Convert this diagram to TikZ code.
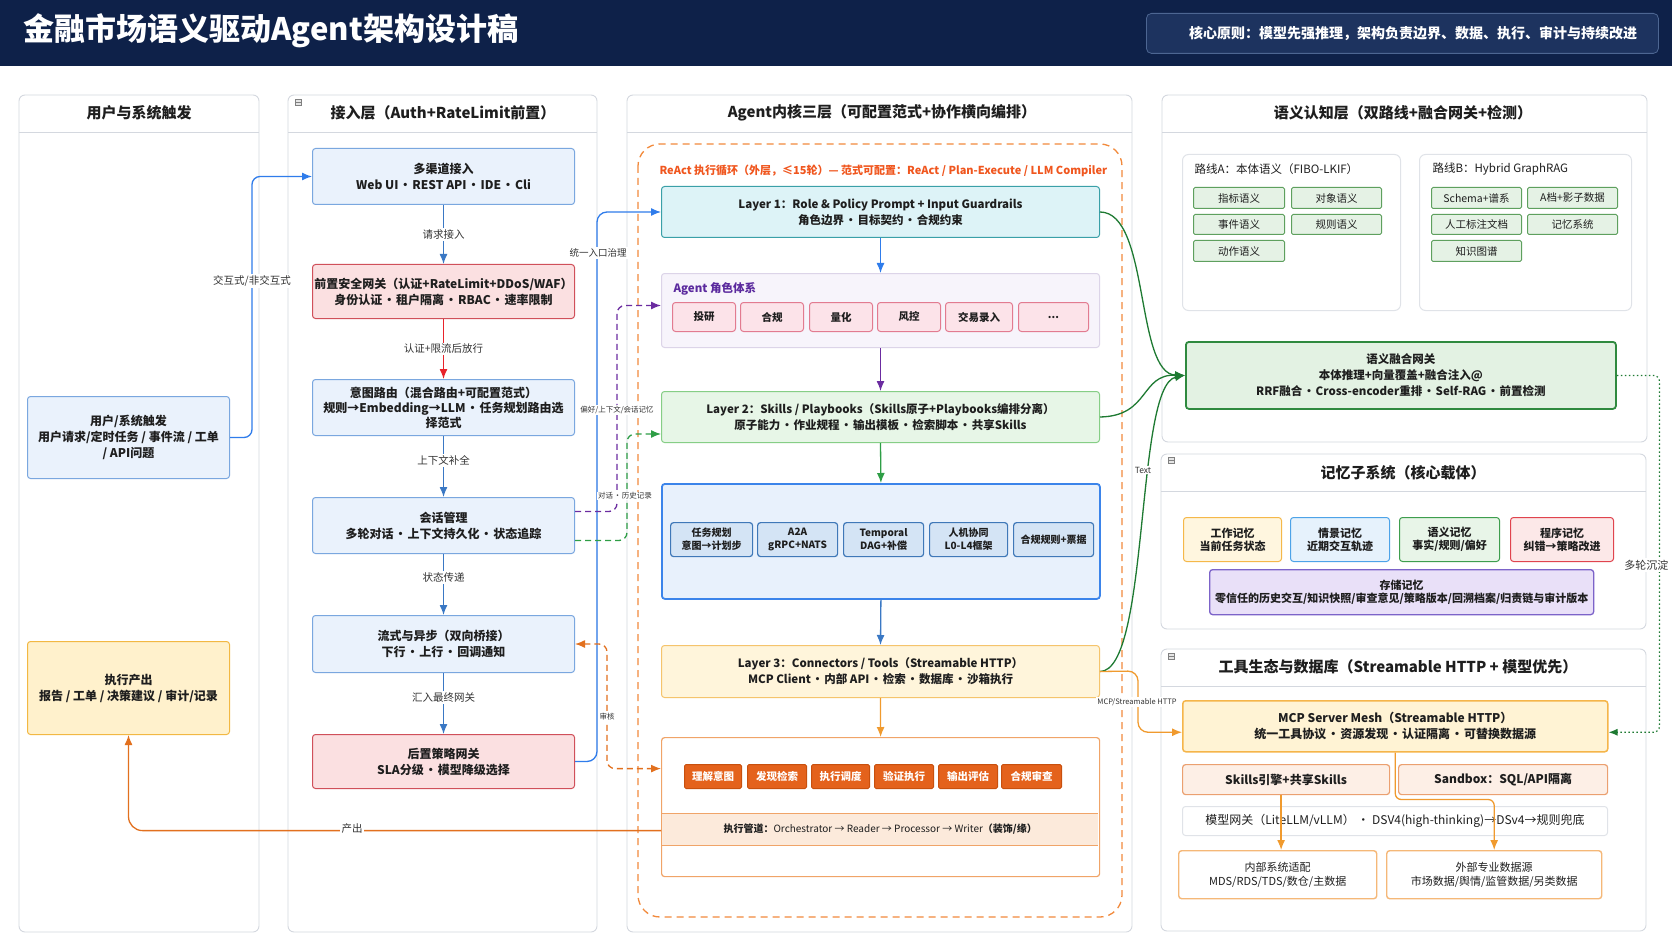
\documentclass[tikz,border=0pt]{standalone}
\usepackage{fontspec}
\setmainfont{Noto Sans CJK SC}
\usetikzlibrary{arrows.meta,calc}
\definecolor{navy}{HTML}{0E2149}
\definecolor{navybox}{HTML}{1D335F}
\definecolor{navyline}{HTML}{4D6692}
\definecolor{panelline}{HTML}{D4D8DF}
\definecolor{txt}{HTML}{1E1E1E}
\definecolor{labtxt}{HTML}{333333}
\definecolor{bfill}{HTML}{EAF2FC}
\definecolor{bline}{HTML}{7AA7DF}
\definecolor{rfill}{HTML}{FBE0E1}
\definecolor{rline}{HTML}{D0505A}
\definecolor{yfill}{HTML}{FFF1CC}
\definecolor{yline}{HTML}{F2B843}
\definecolor{cfill}{HTML}{DDF3F7}
\definecolor{cline}{HTML}{3AA0A8}
\definecolor{lavfill}{HTML}{F7F4FB}
\definecolor{lavline}{HTML}{DCD4E8}
\definecolor{pinkfill}{HTML}{FCE3E9}
\definecolor{pinkline}{HTML}{E27B90}
\definecolor{rolepurple}{HTML}{5B2A9E}
\definecolor{gfill}{HTML}{E7F6E7}
\definecolor{gline}{HTML}{86CE86}
\definecolor{colfill}{HTML}{E8F1FC}
\definecolor{colline}{HTML}{3B84EA}
\definecolor{chipfill}{HTML}{D4E4F5}
\definecolor{chipline}{HTML}{3F78B8}
\definecolor{lthreefill}{HTML}{FFF5DB}
\definecolor{lthreeline}{HTML}{F5C46C}
\definecolor{exline}{HTML}{F0A468}
\definecolor{exband}{HTML}{FCEADB}
\definecolor{stepfill}{HTML}{E4621C}
\definecolor{stepline}{HTML}{C8500E}
\definecolor{react}{HTML}{F0561E}
\definecolor{reactline}{HTML}{F28A3C}
\definecolor{routeline}{HTML}{E0E3E8}
\definecolor{semfill}{HTML}{E5F2E5}
\definecolor{semline}{HTML}{5EA05E}
\definecolor{fgfill}{HTML}{E3F2E3}
\definecolor{fgline}{HTML}{2F8A3F}
\definecolor{wkfill}{HTML}{FFF6DF}
\definecolor{wkline}{HTML}{F5B84A}
\definecolor{scfill}{HTML}{E6F2FC}
\definecolor{scline}{HTML}{4DA3E8}
\definecolor{smfill}{HTML}{E8F5E8}
\definecolor{smline}{HTML}{3E9E4E}
\definecolor{prfill}{HTML}{FCE8E8}
\definecolor{prline}{HTML}{E0444E}
\definecolor{stfill}{HTML}{E9E0F8}
\definecolor{stline}{HTML}{7C63C9}
\definecolor{mcpfill}{HTML}{FFF3D4}
\definecolor{mcpline}{HTML}{F5B54A}
\definecolor{skfill}{HTML}{FDEFE6}
\definecolor{skline}{HTML}{EBA070}
\definecolor{dbline}{HTML}{F5B878}
\definecolor{arrblue}{HTML}{2F7CEB}
\definecolor{arrbluetwo}{HTML}{3A78C4}
\definecolor{arrred}{HTML}{E8232B}
\definecolor{arrpurple}{HTML}{6B2CA0}
\definecolor{arrgreen}{HTML}{2E9E46}
\definecolor{darkgreen}{HTML}{1E7A32}
\definecolor{arrorange}{HTML}{E2701E}
\definecolor{arrorangetwo}{HTML}{F09A2E}
\newcommand\bx[7]{\node[#6,anchor=north west,minimum width={#4-#2},minimum height={#5-#3}] (#1) at (#2,#3) {#7};}
\newcommand\md{\kern0.08em·\kern0.08em}
\begin{document}
\begin{tikzpicture}[x=1pt,y=-1pt,
  every node/.style={text=txt},
  ptitle/.style={font=\fontsize{15}{18}\selectfont\bfseries},
  box/.style={rounded corners=3pt, align=center, inner sep=1pt, line width=1pt},
  tb/.style={font=\fontsize{12}{16}\selectfont\bfseries},
  tl/.style={font=\fontsize{11.5}{16}\selectfont\bfseries},
  lbl/.style={fill=white, inner sep=1.5pt, font=\fontsize{10.5}{12}\selectfont, text=labtxt},
  slbl/.style={fill=white, inner sep=1pt, font=\fontsize{7.5}{9}\selectfont, text=labtxt},
  arr/.style={-{Latex[length=10pt,width=8pt]}, line width=1.3pt},
  rolechip/.style={box, fill=pinkfill, draw=pinkline, font=\fontsize{10.5}{12}\selectfont\bfseries},
  colchip/.style={box, fill=chipfill, draw=chipline, line width=1.2pt, font=\fontsize{10}{13}\selectfont\bfseries},
  stepchip/.style={box, rounded corners=1.5pt, fill=stepfill, draw=stepline, text=white, font=\fontsize{10.5}{12}\selectfont\bfseries},
  semchip/.style={box, rounded corners=1.5pt, fill=semfill, draw=semline, font=\fontsize{10.5}{12}\selectfont},
  memb/.style={box, font=\fontsize{11}{13}\selectfont\bfseries},
  panel/.style={draw=panelline, fill=white, rounded corners=6pt, line width=0.9pt},
  sepline/.style={draw=panelline, line width=0.9pt}
]
\useasboundingbox (0,0) rectangle (1672,941);
\fill[white] (0,0) rectangle (1672,941);
% header
\fill[navy] (0,0) rectangle (1672,66);
\node[anchor=west, text=white, font=\fontsize{31}{35}\selectfont\bfseries] (title) at (20,31) {金融市场语义驱动Agent架构设计稿};
\bx{princ}{1146}{13}{1658}{53}{draw=navyline, fill=navybox, rounded corners=5pt, line width=0.8pt}{}
\node[text=white, font=\fontsize{14}{16}\selectfont\bfseries] (princtext) at (1413,33) {核心原则：模型先强推理，架构负责边界、数据、执行、审计与持续改进};

% panels
\draw[panel] (19,95) rectangle (259,932); \draw[sepline] (19,132) -- (259,132);
\node[ptitle] (t1) at (139,113) {用户与系统触发};
\draw[panel] (288,95) rectangle (597,932); \draw[sepline] (288,132) -- (597,132);
\node[ptitle] (t2) at (443,113) {接入层（Auth+RateLimit前置）};
\draw[panel] (627,95) rectangle (1132,932); \draw[sepline] (627,132) -- (1132,132);
\node[ptitle] (t3) at (882,113) {Agent内核三层（可配置范式+协作横向编排）};
\draw[panel] (1162,95) rectangle (1647,442); \draw[sepline] (1162,132) -- (1647,132);
\node[ptitle] (t4) at (1403,113) {语义认知层（双路线+融合网关+检测）};
\draw[panel] (1161,454) rectangle (1646,629); \draw[sepline] (1161,491) -- (1646,491);
\node[ptitle] (t5) at (1403,473) {记忆子系统（核心载体）};
\draw[panel] (1161,649) rectangle (1646,931); \draw[sepline] (1161,686) -- (1646,686);
\node[ptitle] (t6) at (1398,667) {工具生态与数据库（Streamable HTTP + 模型优先）};
% small icons
\foreach \ix/\iy in {295/99, 1168/457, 1168/653}{
  \draw[gray, line width=0.5pt, fill=gray!20] (\ix,\iy) rectangle ++(6,6);
  \draw[gray, line width=0.5pt] (\ix,\iy+3) -- ++(6,0);
}

% column 1
\bx{ub}{27}{396}{229}{478}{box,fill=bfill,draw=bline,tb}{用户/系统触发\\用户请求/定时任务 / 事件流 / 工单\\/ API问题}
\bx{out}{27}{641}{229}{734}{box,fill=yfill,draw=yline,tb}{执行产出\\报告 / 工单 / 决策建议 / 审计/记录}

% column 2
\bx{mc}{312}{148}{574}{204}{box,fill=bfill,draw=bline,tb}{多渠道接入\\Web UI\md REST API\md IDE\md Cli}
\bx{gw}{312}{264}{574}{318}{box,fill=rfill,draw=rline,tb}{前置安全网关（认证+RateLimit+DDoS/WAF）\\身份认证\md 租户隔离\md RBAC\md 速率限制}
\bx{ir}{312}{379}{574}{435}{box,fill=bfill,draw=bline,font=\fontsize{12}{15}\selectfont\bfseries}{意图路由（混合路由+可配置范式）\\规则→Embedding→LLM\md 任务规划路由选\\择范式}
\bx{sm}{312}{497}{574}{553}{box,fill=bfill,draw=bline,tb}{会话管理\\多轮对话\md 上下文持久化\md 状态追踪}
\bx{sf}{312}{615}{574}{672}{box,fill=bfill,draw=bline,tb}{流式与异步（双向桥接）\\下行\md 上行\md 回调通知}
\bx{pg}{312}{734}{574}{788}{box,fill=rfill,draw=rline,tb}{后置策略网关\\SLA分级\md 模型降级选择}

% column 3
\draw[reactline, line width=1.3pt, dash pattern=on 7pt off 5pt, rounded corners=22pt] (638,144) rectangle (1122,917);
\node[anchor=west, text=react, font=\fontsize{11}{12}\selectfont\bfseries] (reactlbl) at (656,171) {ReAct 执行循环（外层，≤15轮）— 范式可配置：ReAct / Plan-Execute / LLM Compiler};
\bx{L1}{661}{186}{1099}{237}{box,fill=cfill,draw=cline,tl}{Layer 1：Role \& Policy Prompt + Input Guardrails\\角色边界\md 目标契约\md 合规约束}
\bx{roles}{661}{273}{1099}{347}{box,fill=lavfill,draw=lavline}{}
\node[anchor=west, text=rolepurple, font=\fontsize{11.5}{13}\selectfont\bfseries] (rolest) at (670,289) {Agent 角色体系};
\bx{ra}{672}{302}{735}{331}{rolechip}{投研}
\bx{rb}{740}{302}{803}{331}{rolechip}{合规}
\bx{rc}{809}{302}{872}{331}{rolechip}{量化}
\bx{rd}{877}{302}{940}{331}{rolechip}{风控}
\bx{re}{945}{302}{1012}{331}{rolechip}{交易录入}
\bx{rf}{1018}{302}{1088}{331}{rolechip}{...}
\bx{L2}{661}{391}{1099}{442}{box,fill=gfill,draw=gline,tl}{Layer 2：Skills / Playbooks（Skills原子+Playbooks编排分离）\\原子能力\md 作业规程\md 输出模板\md 检索脚本\md 共享Skills}
\bx{collab}{661}{483}{1099}{598}{box,fill=colfill,draw=colline,line width=1.8pt}{}
\bx{ca}{670}{522}{752}{556}{colchip}{任务规划\\意图→计划步}
\bx{cb}{757}{522}{837}{556}{colchip}{A2A\\gRPC+NATS}
\bx{cc}{843}{522}{923}{556}{colchip}{Temporal\\DAG+补偿}
\bx{cd}{929}{522}{1007}{556}{colchip}{人机协同\\L0-L4框架}
\bx{ce}{1013}{522}{1093}{556}{colchip}{合规规则+票据}
\bx{L3}{661}{645}{1099}{697}{box,fill=lthreefill,draw=lthreeline,tl}{Layer 3：Connectors / Tools（Streamable HTTP）\\MCP Client\md 内部 API\md 检索\md 数据库\md 沙箱执行}
\bx{ex}{661}{737}{1099}{876}{box,fill=white,draw=exline,line width=1.2pt}{}
\bx{pipe}{662}{813}{1098}{845}{fill=exband, inner sep=0pt, font=\fontsize{10}{12}\selectfont}{\textbf{执行管道：}Orchestrator → Reader → Processor → Writer\textbf{（装饰/缘）}}
\draw[exline, line width=0.8pt] (pipe.north west) -- (pipe.north east);
\draw[exline, line width=0.8pt] (pipe.south west) -- (pipe.south east);
\bx{sa}{684}{764}{741}{788}{stepchip}{理解意图}
\bx{sb}{747}{764}{806}{788}{stepchip}{发现检索}
\bx{sc}{811}{764}{869}{788}{stepchip}{执行调度}
\bx{sd}{874}{764}{933}{788}{stepchip}{验证执行}
\bx{se}{938}{764}{997}{788}{stepchip}{输出评估}
\bx{sg}{1001}{764}{1061}{788}{stepchip}{合规审查}

% column 4: semantic
\bx{routeA}{1182}{154}{1400}{310}{box,fill=white,draw=routeline,rounded corners=6pt}{}
\bx{routeB}{1419}{154}{1631}{310}{box,fill=white,draw=routeline,rounded corners=6pt}{}
\node[anchor=west, font=\fontsize{11.5}{13}\selectfont] (rAt) at (1191,169) {路线A：本体语义（FIBO-LKIF）};
\node[anchor=west, font=\fontsize{11.5}{13}\selectfont] (rBt) at (1429,169) {路线B：Hybrid GraphRAG};
\bx{a1}{1193}{187}{1284}{208}{semchip}{指标语义}
\bx{a2}{1291}{187}{1381}{208}{semchip}{对象语义}
\bx{a3}{1193}{214}{1284}{234}{semchip}{事件语义}
\bx{a4}{1291}{214}{1381}{234}{semchip}{规则语义}
\bx{a5}{1193}{240}{1284}{261}{semchip}{动作语义}
\bx{b1}{1431}{187}{1521}{208}{semchip}{Schema+谱系}
\bx{b2}{1527}{187}{1617}{208}{semchip}{A档+影子数据}
\bx{b3}{1431}{214}{1521}{234}{semchip}{人工标注文档}
\bx{b4}{1527}{214}{1617}{234}{semchip}{记忆系统}
\bx{b5}{1431}{240}{1521}{261}{semchip}{知识图谱}
\bx{fg}{1185}{341}{1615}{408}{box,fill=fgfill,draw=fgline,line width=1.8pt,font=\fontsize{11.5}{16}\selectfont\bfseries}{语义融合网关\\本体推理+向量覆盖+融合注入@\\RRF融合\md Cross-encoder重排\md Self-RAG\md 前置检测}

% memory
\bx{mw}{1183}{517}{1281}{561}{memb,fill=wkfill,draw=wkline}{工作记忆\\当前任务状态}
\bx{ms}{1290}{517}{1389}{561}{memb,fill=scfill,draw=scline}{情景记忆\\近期交互轨迹}
\bx{mm}{1399}{517}{1499}{561}{memb,fill=smfill,draw=smline}{语义记忆\\事实/规则/偏好}
\bx{mp}{1510}{517}{1613}{561}{memb,fill=prfill,draw=prline}{程序记忆\\纠错→策略改进}
\bx{mst}{1209}{569}{1593}{614}{memb,fill=stfill,draw=stline,line width=1.3pt}{存储记忆\\零信任的历史交互/知识快照/审查意见/策略版本/回溯档案/归责链与审计版本}

% tools
\bx{mcp}{1182}{700}{1607}{751}{box,fill=mcpfill,draw=mcpline,line width=1.5pt,tb}{MCP Server Mesh（Streamable HTTP）\\统一工具协议\md 资源发现\md 认证隔离\md 可替换数据源}
\bx{sk}{1182}{764}{1389}{794}{box,fill=skfill,draw=skline,line width=1.2pt,tb}{Skills引擎+共享Skills}
\bx{sb2}{1398}{764}{1607}{794}{box,fill=skfill,draw=skline,line width=1.2pt,tb}{Sandbox：SQL/API隔离}
\bx{mg}{1182}{806}{1607}{835}{box,fill=white,draw=routeline,font=\fontsize{12}{14}\selectfont}{模型网关（LiteLLM/vLLM） · DSV4(high-thinking)→DSv4→规则兜底}
\bx{int}{1178}{850}{1376}{898}{box,fill=white,draw=dbline,line width=1.4pt,font=\fontsize{11}{14}\selectfont}{内部系统适配\\MDS/RDS/TDS/数仓/主数据}
\bx{ext}{1386}{850}{1601}{898}{box,fill=white,draw=dbline,line width=1.4pt,font=\fontsize{11}{14}\selectfont}{外部专业数据源\\市场数据/舆情/监管数据/另类数据}

% ---------- connectors ----------
\draw[arr, arrblue, rounded corners=8pt] (ub.east) -| ([xshift=-60pt]mc.west) -- (mc.west);
\node[lbl] (lab1) at (252,281) {交互式/非交互式};
\draw[arr, arrbluetwo] (mc.south) -- node[lbl] (lab2) {请求接入} (gw.north);
\draw[arr, arrred] (gw.south) -- node[lbl] (lab3) {认证+限流后放行} (ir.north);
\draw[arr, arrbluetwo] (ir.south) -- node[lbl, pos=0.4] (lab4) {上下文补全} (sm.north);
\draw[arr, arrbluetwo] (sm.south) -- node[lbl, pos=0.38] (lab5) {状态传递} (sf.north);
\draw[arr, arrbluetwo] (sf.south) -- node[lbl, pos=0.4] (lab6) {汇入最终网关} (pg.north);

\draw[arr, arrblue, rounded corners=10pt] (pg.east) -| ([xshift=-64pt]L1.west) -- (L1.west);
\node[lbl, font=\fontsize{9.5}{11}\selectfont] (lab7) at (598,253) {统一入口治理};

\draw[arr, arrpurple, dash pattern=on 6pt off 4pt, rounded corners=8pt] ([yshift=14pt]sm.east) -| ([xshift=-44pt,yshift=5pt]roles.west) -- ([yshift=5pt]roles.west);
\node[slbl] (lab8) at (617,410) {偏好/上下文/会话记忆};
\draw[arr, arrgreen, dash pattern=on 6pt off 4pt, rounded corners=8pt] ([yshift=-15pt]sm.east) -| ([xshift=-34pt,yshift=-17pt]L2.west) -- ([yshift=-17pt]L2.west);
\node[slbl] (lab9) at (625,496) {对话\md 历史记录};

\draw[{Latex[length=10pt,width=8pt]}-{Latex[length=10pt,width=8pt]}, arrorange, line width=1.3pt, dash pattern=on 6pt off 4pt, rounded corners=8pt] (sf.east) -| ([xshift=-54pt,yshift=38.5pt]ex.west) -- ([yshift=38.5pt]ex.west);
\node[slbl] (lab10) at (607,717) {审核};

\draw[arr, arrorange, rounded corners=14pt] ([yshift=-23.5pt]ex.west) -| (out.south);
\node[lbl] (lab11) at (352,829) {产出};

\draw[arr, arrblue] (L1.south) -- (roles.north);
\draw[arr, arrpurple] (roles.south) -- (L2.north);
\draw[arr, arrgreen] (L2.south) -- (collab.north);
\draw[arr, arrbluetwo] (collab.south) -- (L3.north);
\draw[arr, arrorangetwo] (L3.south) -- (ex.north);

\draw[arr, darkgreen] (L1.east) .. controls (1150,212) and (1135,374) .. (fg.west);
\draw[arr, darkgreen] (L2.east) .. controls (1150,416) and (1140,374) .. (fg.west);
\draw[arr, darkgreen] (L3.east) .. controls (1150,671) and (1135,385) .. (fg.west);
\node[font=\fontsize{8.5}{10}\selectfont, fill=white, inner sep=1pt, text=labtxt] (lab12) at (1143,470) {Text};

\draw[arr, arrorangetwo, rounded corners=10pt] (L3.east) -- (1138,671) |- ([yshift=-6pt]mcp.west);
\node[font=\fontsize{7.5}{9}\selectfont, fill=white, inner sep=1pt, text=labtxt] (lab13) at (1137,702) {MCP/Streamable HTTP};

\draw[-{Latex[length=9pt,width=7pt]}, darkgreen, line width=1.2pt, dash pattern=on 1.5pt off 2.5pt, rounded corners=6pt] (fg.east) -| ([xshift=51pt,yshift=-6pt]mcp.east) -- ([yshift=-6pt]mcp.east);
\node[lbl, anchor=east, font=\fontsize{11}{13}\selectfont] (lab14) at (1670,565) {多轮沉淀};

\draw[arr, arrorangetwo, rounded corners=6pt] (mcp.south) -- ++(0,47) -| (ext.north);
\draw[arr, arrorangetwo] ([xshift=-5pt]sk.south) -- ([xshift=-5pt]sk.south |- int.north);
\end{tikzpicture}
\end{document}
